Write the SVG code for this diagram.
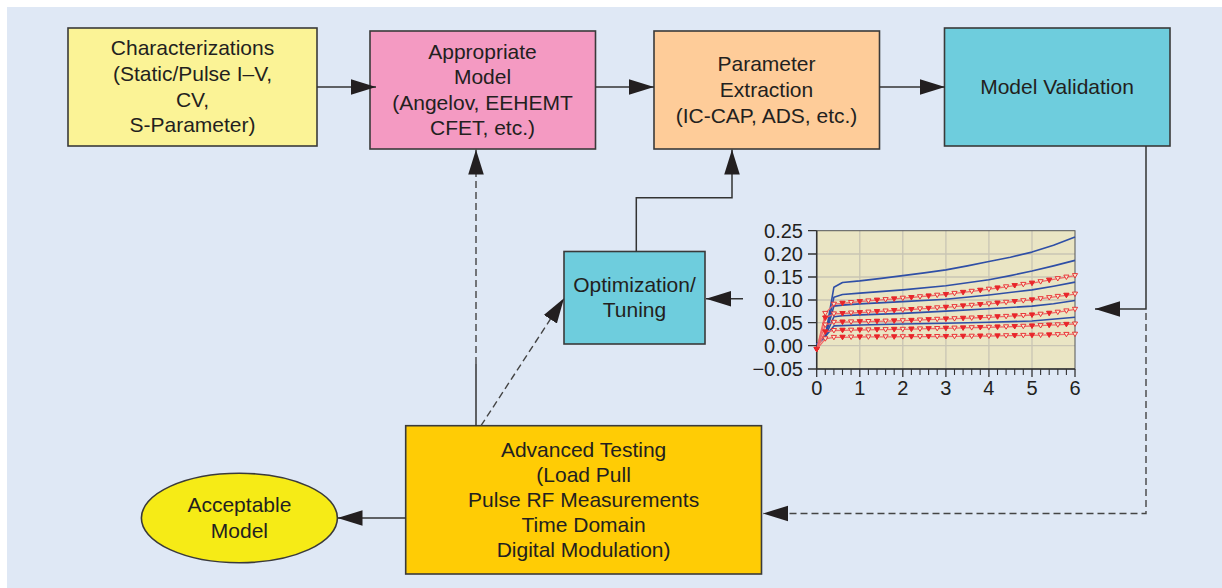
<svg xmlns="http://www.w3.org/2000/svg" width="1222" height="588" viewBox="0 0 1222 588">
  <defs>
    <style>
      .node { stroke: #3a3a3a; stroke-width: 1.6; }
      .lbl { font-family: "Liberation Sans", Arial, sans-serif; font-size: 21px; fill: #231f20; text-anchor: middle; }
      .ax { font-family: "Liberation Sans", Arial, sans-serif; font-size: 20px; fill: #231f20; }
      .wire { fill: none; stroke: #333; stroke-width: 1.5; }
      .dash { fill: none; stroke: #444; stroke-width: 1.4; stroke-dasharray: 7 4; }
      .grid { fill: none; stroke: #c9c5b4; stroke-width: 1.3; }
      .blue { fill: none; stroke: #2f4fa6; stroke-width: 1.6; stroke-linejoin: round; }
      .red { fill: none; stroke: #f06a6a; stroke-width: 1.3; stroke-linejoin: round; }
      .redpts { fill: none; stroke: none; }
    </style>
    <marker id="arr" markerUnits="userSpaceOnUse" viewBox="0 0 26 18" markerWidth="26" markerHeight="18" refX="25" refY="9" orient="auto">
      <path d="M0,1.2 L25,9 L0,16.8 Z" fill="#231f20"/>
    </marker>
    <marker id="triO" markerUnits="userSpaceOnUse" viewBox="-3.5 -3.5 7 7" markerWidth="7" markerHeight="7" refX="0" refY="0" orient="0">
      <path d="M-2.6,-2 L2.6,-2 L0,2.4 Z" fill="#f4e9cf" stroke="#e8262a" stroke-width="0.9"/>
    </marker>
    <marker id="triF" markerUnits="userSpaceOnUse" viewBox="-3.5 -3.5 7 7" markerWidth="7" markerHeight="7" refX="0" refY="0" orient="0">
      <path d="M-2.6,-2 L2.6,-2 L0,2.4 Z" fill="#e8262a" stroke="#e8262a" stroke-width="0.6"/>
    </marker>
  </defs>

  <!-- page panel -->
  <rect x="0" y="0" width="1222" height="588" fill="#ffffff"/>
  <rect x="7" y="7" width="1215" height="581" fill="#dfe8f5"/>

  <g id="characterizations">
    <rect class="node" x="68" y="28" width="249" height="118" fill="#fbf396"/>
    <text class="lbl" x="192.5" y="55">Characterizations</text>
    <text class="lbl" x="192.5" y="81">(Static/Pulse I–V,</text>
    <text class="lbl" x="192.5" y="107">CV,</text>
    <text class="lbl" x="192.5" y="132">S-Parameter)</text>
  </g>

  <g id="appropriate-model">
    <rect class="node" x="370" y="31" width="225.5" height="118" fill="#f49ac2"/>
    <text class="lbl" x="482.5" y="59">Appropriate</text>
    <text class="lbl" x="482.5" y="84">Model</text>
    <text class="lbl" x="482.5" y="110">(Angelov, EEHEMT</text>
    <text class="lbl" x="482.5" y="135">CFET, etc.)</text>
  </g>

  <g id="parameter-extraction">
    <rect class="node" x="654" y="31" width="225.5" height="118" fill="#fecc99"/>
    <text class="lbl" x="766.5" y="71">Parameter</text>
    <text class="lbl" x="766.5" y="97">Extraction</text>
    <text class="lbl" x="766.5" y="123">(IC-CAP, ADS, etc.)</text>
  </g>

  <g id="model-validation">
    <rect class="node" x="944.5" y="28" width="225.5" height="118" fill="#6ecddd"/>
    <text class="lbl" x="1057" y="94">Model Validation</text>
  </g>

  <g id="optimization">
    <rect class="node" x="564" y="251.5" width="141" height="92.5" fill="#6ecddd"/>
    <text class="lbl" x="634.5" y="292">Optimization/</text>
    <text class="lbl" x="634.5" y="317">Tuning</text>
  </g>

  <g id="advanced-testing">
    <rect class="node" x="405.7" y="425.7" width="355.8" height="148.3" fill="#ffcc05"/>
    <text class="lbl" x="583.6" y="457">Advanced Testing</text>
    <text class="lbl" x="583.6" y="482">(Load Pull</text>
    <text class="lbl" x="583.6" y="507">Pulse RF Measurements</text>
    <text class="lbl" x="583.6" y="532">Time Domain</text>
    <text class="lbl" x="583.6" y="557">Digital Modulation)</text>
  </g>

  <g id="acceptable-model">
    <ellipse class="node" cx="239.4" cy="518" rx="98" ry="44.7" fill="#f6eb16"/>
    <text class="lbl" x="239.4" y="512">Acceptable</text>
    <text class="lbl" x="239.4" y="538">Model</text>
  </g>

  <!-- I-V fit plot -->
  <g id="iv-chart">
    <rect x="816.7" y="230.7" width="258.3" height="138.3" fill="#eae5c4"/>
    <path class="grid" d="M859.8,230.7 V369 M902.8,230.7 V369 M945.9,230.7 V369 M988.9,230.7 V369 M1032,230.7 V369 M816.7,254 H1075 M816.7,277 H1075 M816.7,300 H1075 M816.7,322.7 H1075 M816.7,345.7 H1075"/>
    <rect x="816.7" y="230.7" width="258.3" height="138.3" fill="none" stroke="#555" stroke-width="1"/>
    <path d="M816.7,230.7 V369 H1075" fill="none" stroke="#333" stroke-width="1.5"/>
    <!-- y ticks -->
    <path d="M808,230.7 H816.7 M808,254 H816.7 M808,277 H816.7 M808,300 H816.7 M808,322.7 H816.7 M808,345.7 H816.7 M808,369 H816.7" stroke="#333" stroke-width="1.3"/>
    <!-- x ticks -->
    <path d="M816.7,369 V377 M859.8,369 V377 M902.8,369 V377 M945.9,369 V377 M988.9,369 V377 M1032,369 V377 M1075,369 V377" stroke="#333" stroke-width="1.3"/>
    <path d="M825.3,369 V375 M833.9,369 V375 M842.5,369 V375 M851.1,369 V375 M868.4,369 V375 M877,369 V375 M885.6,369 V375 M894.2,369 V375 M911.4,369 V375 M920,369 V375 M928.6,369 V375 M937.2,369 V375 M954.5,369 V375 M963.1,369 V375 M971.7,369 V375 M980.3,369 V375 M997.5,369 V375 M1006.1,369 V375 M1014.7,369 V375 M1023.3,369 V375 M1040.6,369 V375 M1049.2,369 V375 M1057.8,369 V375 M1066.4,369 V375" stroke="#333" stroke-width="1.1"/>
    <g class="ax" text-anchor="end">
      <text x="803" y="237.7">0.25</text>
      <text x="803" y="261">0.20</text>
      <text x="803" y="284">0.15</text>
      <text x="803" y="307">0.10</text>
      <text x="803" y="329.7">0.05</text>
      <text x="803" y="352.7">0.00</text>
      <text x="803" y="376">−0.05</text>
    </g>
    <g class="ax" text-anchor="middle">
      <text x="816.7" y="395">0</text>
      <text x="859.8" y="395">1</text>
      <text x="902.8" y="395">2</text>
      <text x="945.9" y="395">3</text>
      <text x="988.9" y="395">4</text>
      <text x="1032" y="395">5</text>
      <text x="1075" y="395">6</text>
    </g>
    <!-- simulated curves -->
    <polyline class="blue" points="816.7,344.3 825.3,336.5 833.9,287.2 842.5,282.5 859.8,280.9 881.3,278.4 902.8,275.6 924.3,272.9 945.9,269.9 967.4,265.9 988.9,261.5 1010.4,257.2 1032,252.1 1053.5,245.2 1075,237.1"/>
    <polyline class="blue" points="816.7,344.3 825.3,336.5 833.9,297.3 842.5,294.5 859.8,293.1 902.8,289.9 945.9,285.8 988.9,279.8 1010.4,275.6 1032,271 1053.5,265.9 1075,260.4"/>
    <polyline class="blue" points="816.7,344.3 825.3,336.5 833.9,306.1 842.5,305.1 859.8,303.9 902.8,301.6 945.9,299.3 988.9,295 1032,289.9 1053.5,286.2 1075,282.1"/>
    <polyline class="blue" points="816.7,344.3 825.3,336.5 833.9,316.7 842.5,315.7 859.8,314.9 902.8,313.4 945.9,311.1 988.9,308.8 1032,306.1 1053.5,303.8 1075,300.5"/>
    <polyline class="blue" points="816.7,344.3 825.3,336.5 833.9,325.9 859.8,325 902.8,324 945.9,323.3 988.9,322.2 1032,321 1075,317.3"/>
    <!-- measured curves -->
    <g marker-start="url(#triF)" marker-mid="url(#triO)" marker-end="url(#triO)">
      <polyline class="red" points="816.7,349.4 825.3,313.4 833.9,304.2 842.5,303.3 851.1,302.5 859.8,301.6 868.4,300.9 877,300.2 885.6,299.6 894.2,298.9 902.8,298.2 911.4,297.5 920,296.7 928.6,296 937.2,295.2 945.9,294.5 954.5,293.4 963.1,292.4 971.7,291.3 980.3,290.3 988.9,289.2 997.5,288 1006.1,286.8 1014.7,285.6 1023.3,284.4 1032,283.2 1040.6,281.7 1049.2,280.2 1057.8,278.6 1066.4,277.1 1075,275.6"/>
      <polyline class="red" points="816.7,349.4 825.3,318 833.9,313.9 842.5,313.5 851.1,313 859.8,312.6 868.4,312.1 877,311.6 885.6,311 894.2,310.5 902.8,310 911.4,309.5 920,308.9 928.6,308.4 937.2,307.8 945.9,307.3 954.5,306.6 963.1,305.9 971.7,305.3 980.3,304.6 988.9,303.9 997.5,303.1 1006.1,302.3 1014.7,301.5 1023.3,300.7 1032,299.9 1040.6,298.7 1049.2,297.6 1057.8,296.4 1066.4,295.3 1075,294.1"/>
      <polyline class="red" points="816.7,349.4 825.3,325 833.9,322.3 842.5,322.1 851.1,321.9 859.8,321.7 868.4,321.5 877,321.3 885.6,321.1 894.2,320.9 902.8,320.7 911.4,320.4 920,320 928.6,319.7 937.2,319.3 945.9,319 954.5,318.7 963.1,318.3 971.7,318 980.3,317.6 988.9,317.3 997.5,316.8 1006.1,316.4 1014.7,315.9 1023.3,315.5 1032,315 1040.6,314.2 1049.2,313.3 1057.8,312.2 1066.4,310.9 1075,309.3"/>
      <polyline class="red" points="816.7,349.4 825.3,331.9 833.9,330.5 842.5,330.3 851.1,330.2 859.8,330 868.4,329.9 877,329.7 885.6,329.6 894.2,329.4 902.8,329.3 911.4,329.1 920,328.9 928.6,328.7 937.2,328.5 945.9,328.3 954.5,328.1 963.1,327.9 971.7,327.7 980.3,327.5 988.9,327.3 997.5,327 1006.1,326.8 1014.7,326.5 1023.3,326.3 1032,326 1040.6,325.6 1049.2,325.2 1057.8,324.8 1066.4,324.4 1075,324"/>
      <polyline class="red" points="816.7,349.4 825.3,338.8 833.9,337.4 842.5,337.3 851.1,337.1 859.8,337 868.4,336.9 877,336.9 885.6,336.8 894.2,336.8 902.8,336.7 911.4,336.7 920,336.6 928.6,336.6 937.2,336.5 945.9,336.5 954.5,336.4 963.1,336.3 971.7,336.2 980.3,336.1 988.9,336 997.5,335.9 1006.1,335.7 1014.7,335.6 1023.3,335.4 1032,335.3 1040.6,335.1 1049.2,334.9 1057.8,334.6 1066.4,334.4 1075,334.2"/>
    </g>
    <g marker-start="url(#triF)" marker-mid="url(#triF)" marker-end="url(#triF)">
      <polyline class="redpts" points="842.5,303.3 859.8,301.6 877,300.2 894.2,298.9 911.4,297.5 928.6,296 945.9,294.5 963.1,292.4 980.3,290.3 997.5,288 1014.7,285.6 1032,283.2 1049.2,280.2"/>
      <polyline class="redpts" points="825.3,318 842.5,313.5 859.8,312.6 877,311.6 894.2,310.5 911.4,309.5 928.6,308.4 945.9,307.3 963.1,305.9 980.3,304.6 997.5,303.1 1014.7,301.5 1032,299.9 1066.4,295.3"/>
      <polyline class="redpts" points="842.5,322.1 859.8,321.7 877,321.3 894.2,320.9 911.4,320.4 928.6,319.7 945.9,319 963.1,318.3 980.3,317.6 997.5,316.8 1014.7,315.9 1032,315 1049.2,313.3"/>
      <polyline class="redpts" points="825.3,331.9 842.5,330.3 859.8,330 877,329.7 894.2,329.4 911.4,329.1 928.6,328.7 945.9,328.3 963.1,327.9 980.3,327.5 997.5,327 1014.7,326.5 1032,326 1049.2,325.2 1066.4,324.4"/>
      <polyline class="redpts" points="842.5,337.3 859.8,337 877,336.9 894.2,336.8 911.4,336.7 928.6,336.6 945.9,336.5 963.1,336.3 980.3,336.1 997.5,335.9 1014.7,335.6 1032,335.3 1049.2,334.9"/>
    </g>
  </g>

  <g id="connectors">
    <path class="wire" d="M317,87 H376" marker-end="url(#arr)"/>
    <path class="wire" d="M595.5,87 H654" marker-end="url(#arr)"/>
    <path class="wire" d="M879.5,87 H945" marker-end="url(#arr)"/>
    <path class="wire" d="M1146,146 V309 H1095" marker-end="url(#arr)"/>
    <path class="dash" d="M1146,313 V513.5 H763" marker-end="url(#arr)"/>
    <path class="wire" d="M405.7,518 H337.5" marker-end="url(#arr)"/>
    <path class="wire" d="M743,298.7 H706" marker-end="url(#arr)"/>
    <path class="wire" d="M636.3,251.5 V197.7 H732 V149.5" marker-end="url(#arr)"/>
    <path class="wire" d="M476,425.7 V364"/>
    <path class="dash" d="M476,364 V149.5" marker-end="url(#arr)"/>
    <path class="dash" d="M481,425.7 L564,298.3" marker-end="url(#arr)"/>
  </g>
</svg>
